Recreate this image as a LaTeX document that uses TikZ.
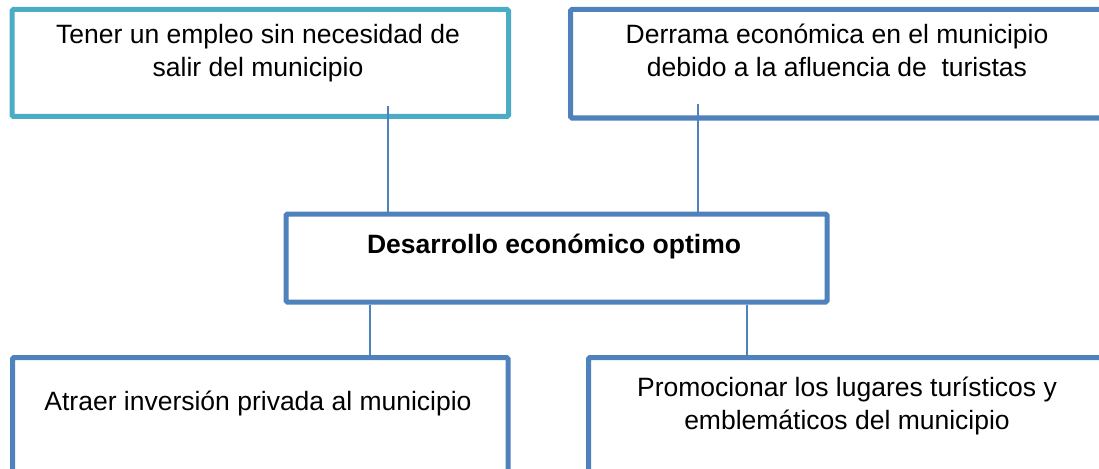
\documentclass[tikz,border=0pt]{standalone}
\usepackage{fontspec}
\setmainfont{Liberation Sans}
\definecolor{tealbox}{HTML}{4BACC6}
\definecolor{bluebox}{HTML}{4F81BD}
\begin{document}
\begin{tikzpicture}[x=1pt,y=-1pt,
  box/.style={draw, rectangle, line width=5pt, rounded corners=1.5pt, anchor=north west, inner sep=0pt},
  txt/.style={font=\fontsize{26.5}{33}\selectfont, align=center, anchor=base, inner sep=0pt},
  conn/.style={draw=bluebox, line width=1.6pt}]
\useasboundingbox (0,0) rectangle (1099,468);
\clip (0,0) rectangle (1099,468);
\fill[white] (0,0) rectangle (1099,468);
% boxes
\node[box, draw=tealbox, minimum width=496.5pt, minimum height=107pt] (b1) at (9.5,7) {};
\node[box, draw=bluebox, minimum width=538pt, minimum height=108.5pt] (b2) at (568,7) {};
\node[box, draw=bluebox, minimum width=541pt, minimum height=88pt] (bc) at (283.5,211.5) {};
\node[box, draw=bluebox, minimum width=495.5pt, minimum height=140pt] (b3) at (10,355) {};
\node[box, draw=bluebox, minimum width=522pt, minimum height=140pt] (b4) at (586,355) {};
% texts (base anchor = baseline of last line)
\node[txt] (t1) at (258,76.5) {Tener un empleo sin necesidad de\\salir del municipio};
\node[txt] (t2) at (837,77) {Derrama económica en el municipio\\debido a la afluencia de\ \ turistas};
\node[txt, font=\fontsize{26.5}{33}\selectfont\bfseries] (tc) at (554,253) {Desarrollo económico optimo};
\node[txt] (t3) at (258,410) {Atraer inversión privada al municipio};
\node[txt] (t4) at (847,429) {Promocionar los lugares turísticos y\\emblemáticos del municipio};
% connectors
\coordinate (c1) at ([yshift=13pt]b1.south -| 388,0);
\coordinate (c2) at ([yshift=16.5pt]b2.south -| 698,0);
\coordinate (c3) at (370,0);
\coordinate (c4) at (747,0);
\draw[conn] (c1) -- (c1 |- bc.north);
\draw[conn] (c2) -- (c2 |- bc.north);
\draw[conn] (c3 |- bc.south) -- (c3 |- b3.north);
\draw[conn] (c4 |- bc.south) -- (c4 |- b4.north);
\end{tikzpicture}
\end{document}
